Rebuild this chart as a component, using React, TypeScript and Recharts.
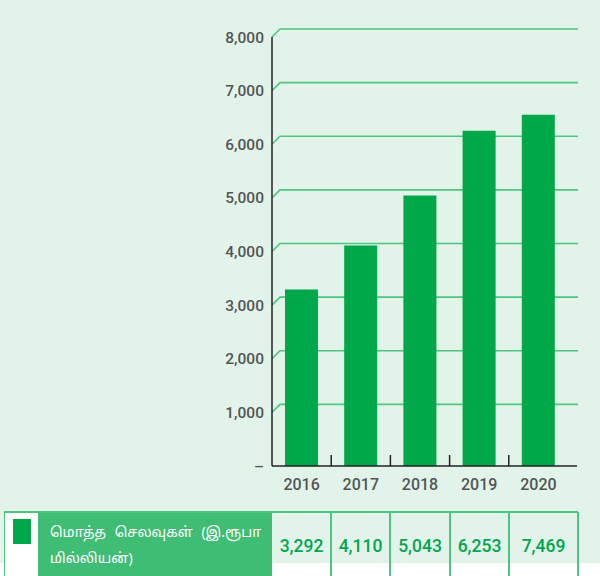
import { BarChart, Bar, XAxis, YAxis, CartesianGrid } from 'recharts';

const years = ['2016', '2017', '2018', '2019', '2020'];
// values printed in the table under the chart
const tableValues = [3292, 4110, 5043, 6253, 7469];
// bar heights as they are drawn (the 2020 bar stops near 6,550, not at its table value)
const barValues = [3292, 4110, 5043, 6253, 6550];
const yTicks = [0, 1000, 2000, 3000, 4000, 5000, 6000, 7000, 8000];
const seriesLabelLines = ['மொத்த செலவுகள் (இ.ரூபா', 'மில்லியன்)'];

const data = years.map((year, i) => ({ year, value: barValues[i] }));

const FONT = 'Roboto, "Noto Sans", sans-serif';
const MINT = '#e2f3ea';
const BAR = '#00a84a';
const GRID = '#4cc77f';
const TEXT = '#555555';

// slanted "3D" gridline: up-right from the axis, then flat across the back wall
function SlantGrid(props: any) {
  const { x1, y1, x2 } = props;
  if (y1 > 460) return <g />;
  return (
    <path
      d={`M${x1},${y1} L${x1 + 8},${y1 - 8} L${x2 + 1},${y1 - 8}`}
      stroke={GRID}
      strokeWidth={1.6}
      fill="none"
    />
  );
}

function YearTick(props: any) {
  const { x, y, payload, index } = props;
  const half = payload?.offset ?? 29.6;
  return (
    <g>
      {index < years.length - 1 && (
        <line x1={x + half} y1={466 - 11} x2={x + half} y2={466} stroke="#222" strokeWidth={1.5} />
      )}
      <text x={x} y={y + 16} textAnchor="middle" fill={TEXT} fontSize={16} fontWeight={500} fontFamily={FONT}>
        {payload.value}
      </text>
    </g>
  );
}

const cellEdges = [272, 331, 390, 450, 509, 578];

export default function App() {
  return (
    <div style={{ position: 'absolute', left: 0, top: 0, width: 600, height: 576, background: '#fff', overflow: 'hidden', fontFamily: FONT }}>
      <div style={{ position: 'absolute', left: 0, top: 0, width: 600, height: 563, background: MINT }} />
      <div style={{ position: 'absolute', left: 0, top: 0 }}>
        <BarChart width={600} height={510} data={data} margin={{ top: 37, right: 23, bottom: 14, left: 212 }}>
          <CartesianGrid vertical={false} horizontal={SlantGrid} />
          <XAxis
            dataKey="year"
            height={30}
            padding={{ left: 0, right: 9 }}
            axisLine={{ stroke: '#222', strokeWidth: 1.5 }}
            tickLine={false}
            tick={YearTick}
            interval={0}
          />
          <YAxis
            width={60}
            domain={[0, 8000]}
            ticks={yTicks}
            interval={0}
            axisLine={{ stroke: '#222', strokeWidth: 1.5 }}
            tickLine={false}
            tick={{ fill: TEXT, fontSize: 15.5, fontWeight: 500, fontFamily: FONT }}
            tickFormatter={(v: number) => (v === 0 ? '–' : v.toLocaleString('en-US'))}
          />
          <Bar dataKey="value" fill={BAR} barSize={33} isAnimationActive={false} />
        </BarChart>
      </div>

      {/* table row */}
      <div style={{ position: 'absolute', left: 4, top: 511, width: 574, height: 2, background: GRID }} />
      <div style={{ position: 'absolute', left: 4, top: 512, width: 1.5, height: 64, background: GRID }} />
      <div style={{ position: 'absolute', left: 5, top: 513, width: 33, height: 63, background: '#fff' }} />
      <div style={{ position: 'absolute', left: 13, top: 519, width: 18, height: 25, background: BAR }} />
      <div
        style={{
          position: 'absolute',
          left: 38,
          top: 513,
          width: 234,
          height: 63,
          background: '#3fbd74',
          color: '#fff',
          fontSize: 14,
          lineHeight: '26px',
          wordSpacing: 5,
          whiteSpace: 'nowrap',
          overflow: 'hidden',
          padding: '6px 0 0 12px',
          boxSizing: 'border-box',
          fontFamily: '"Noto Sans", "Noto Sans Tamil", sans-serif',
        }}
      >
        {seriesLabelLines.map((line) => (
          <div key={line}>{line}</div>
        ))}
      </div>
      {cellEdges.slice(1).map((x) => (
        <div key={x} style={{ position: 'absolute', left: x - 1, top: 512, width: 2, height: 64, background: GRID }} />
      ))}
      {tableValues.map((v, i) => (
        <div
          key={years[i]}
          style={{
            position: 'absolute',
            left: cellEdges[i],
            top: 536,
            width: cellEdges[i + 1] - cellEdges[i],
            textAlign: 'center',
            color: '#00a650',
            fontSize: 17.5,
            fontWeight: 500,
            fontFamily: FONT,
          }}
        >
          {v.toLocaleString('en-US')}
        </div>
      ))}
    </div>
  );
}
